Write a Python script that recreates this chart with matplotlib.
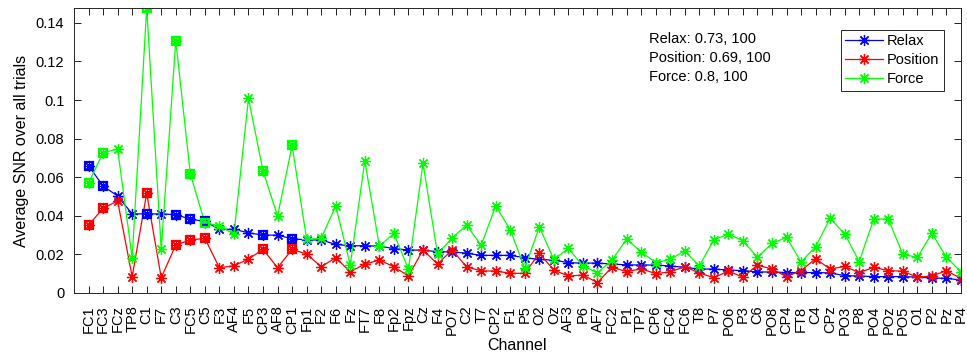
import matplotlib
matplotlib.use('Agg')
import matplotlib.pyplot as plt
import numpy as np

plt.rcParams['font.family'] = ['Liberation Sans', 'DejaVu Sans']

channels = ['FC1', 'FC3', 'FCz', 'TP8', 'C1', 'F7', 'C3', 'FC5', 'C5', 'F3',
            'AF4', 'F5', 'CP3', 'AF8', 'CP1', 'Fp1', 'F2', 'F6', 'Fz', 'FT7',
            'F8', 'Fp2', 'Fpz', 'Cz', 'F4', 'PO7', 'C2', 'T7', 'CP2', 'F1',
            'P5', 'O2', 'Oz', 'AF3', 'P6', 'AF7', 'FC2', 'P1', 'TP7', 'CP6',
            'FC4', 'FC6', 'T8', 'P7', 'PO6', 'P3', 'C6', 'PO8', 'CP4', 'FT8',
            'C4', 'CPz', 'PO3', 'P8', 'PO4', 'POz', 'PO5', 'O1', 'P2', 'Pz', 'P4']

relax = [0.0660, 0.0554, 0.0503, 0.0410, 0.0410, 0.0410, 0.0406, 0.0383, 0.0371, 0.0330,
         0.0330, 0.0312, 0.0300, 0.0300, 0.0281, 0.0275, 0.0275, 0.0252, 0.0245, 0.0245,
         0.0243, 0.0230, 0.0223, 0.0222, 0.0214, 0.0213, 0.0206, 0.0195, 0.0195, 0.0195,
         0.0183, 0.0174, 0.0171, 0.0157, 0.0155, 0.0155, 0.0150, 0.0146, 0.0145, 0.0145,
         0.0140, 0.0133, 0.0124, 0.0124, 0.0119, 0.0116, 0.0109, 0.0109, 0.0106, 0.0106,
         0.0106, 0.0104, 0.0090, 0.0088, 0.0085, 0.0085, 0.0085, 0.0082, 0.0078, 0.0076,
         0.0067]

position = [0.0352, 0.0439, 0.0477, 0.0085, 0.0517, 0.0079, 0.0249, 0.0275, 0.0283, 0.0131,
            0.0141, 0.0176, 0.0226, 0.0131, 0.0226, 0.0202, 0.0136, 0.0183, 0.0110, 0.0150,
            0.0171, 0.0136, 0.0088, 0.0223, 0.0150, 0.0223, 0.0136, 0.0114, 0.0114, 0.0102,
            0.0102, 0.0206, 0.0119, 0.0088, 0.0093, 0.0054, 0.0135, 0.0110, 0.0126, 0.0100,
            0.0110, 0.0136, 0.0104, 0.0079, 0.0114, 0.0082, 0.0145, 0.0124, 0.0085, 0.0116,
            0.0178, 0.0124, 0.0138, 0.0106, 0.0133, 0.0116, 0.0113, 0.0082, 0.0088, 0.0116,
            0.0075]

force = [0.0570, 0.0727, 0.0746, 0.0183, 0.1477, 0.0226, 0.1307, 0.0617, 0.0363, 0.0349,
         0.0304, 0.1009, 0.0632, 0.0399, 0.0765, 0.0278, 0.0283, 0.0451, 0.0145, 0.0684,
         0.0243, 0.0309, 0.0123, 0.0672, 0.0202, 0.0285, 0.0352, 0.0247, 0.0451, 0.0328,
         0.0128, 0.0342, 0.0174, 0.0231, 0.0140, 0.0105, 0.0171, 0.0278, 0.0214, 0.0157,
         0.0174, 0.0219, 0.0140, 0.0275, 0.0306, 0.0271, 0.0185, 0.0257, 0.0288, 0.0161,
         0.0240, 0.0387, 0.0306, 0.0163, 0.0383, 0.0383, 0.0200, 0.0185, 0.0309, 0.0185,
         0.0109]

# channels marked with a box (1-based)
boxed = [1, 2, 5, 7, 8, 9, 13, 15]

stats = ['Relax: 0.73, 100', 'Position: 0.69, 100', 'Force: 0.8, 100']

x = np.arange(1, len(channels) + 1)
ast = (8, 2, 0)

fig = plt.figure(figsize=(9.67, 3.63), dpi=100)
ax = fig.add_axes([74 / 967, 1 - 293 / 363, (961 - 74) / 967, (293 - 8) / 363])

series = [('Relax', relax, (0, 0, 1)),
          ('Position', position, (1, 0, 0)),
          ('Force', force, (0, 1, 0))]
for name, vals, col in series:
    ax.plot(x, vals, color=col, lw=0.9, marker=ast, ms=8, mew=0.9, label=name)
for name, vals, col in series:
    vb = np.array(vals)[np.array(boxed) - 1]
    ax.plot(boxed, vb, ls='none', marker='s', ms=6, mfc='none', mec=col, mew=1.6)

ax.set_xlim(0, len(channels))
ax.set_ylim(0, max(force))
ax.set_xticks(x)
ax.set_xticklabels(channels, rotation=90, fontsize=10.5)
yt = np.arange(0, 0.141, 0.02)
ax.set_yticks(yt)
ax.set_yticklabels(['0', '0.02', '0.04', '0.06', '0.08', '0.1', '0.12', '0.14'], fontsize=10.5)
ax.tick_params(direction='in', top=True, right=True, length=5, width=0.6)
ax.tick_params(axis='x', pad=9)
ax.tick_params(axis='y', pad=7)
for s in ax.spines.values():
    s.set_linewidth(0.7)
    s.set_color('#262626')

ax.set_xlabel('Channel', fontsize=11.5, labelpad=2)
ax.set_ylabel('Average SNR over all trials', fontsize=11.5, labelpad=5)

ax.text(0.648, 0.915, '\n'.join(stats), transform=ax.transAxes, fontsize=10.5,
        va='top', ha='left', linespacing=1.45)

leg = ax.legend(loc='upper right', bbox_to_anchor=(0.989, 0.95), fontsize=10.5,
                fancybox=False, edgecolor='#262626', framealpha=1,
                handlelength=2.6, borderpad=0.3, labelspacing=0.35, handletextpad=0.3)
leg.get_frame().set_linewidth(0.7)

fig.savefig('out.png', dpi=100)
